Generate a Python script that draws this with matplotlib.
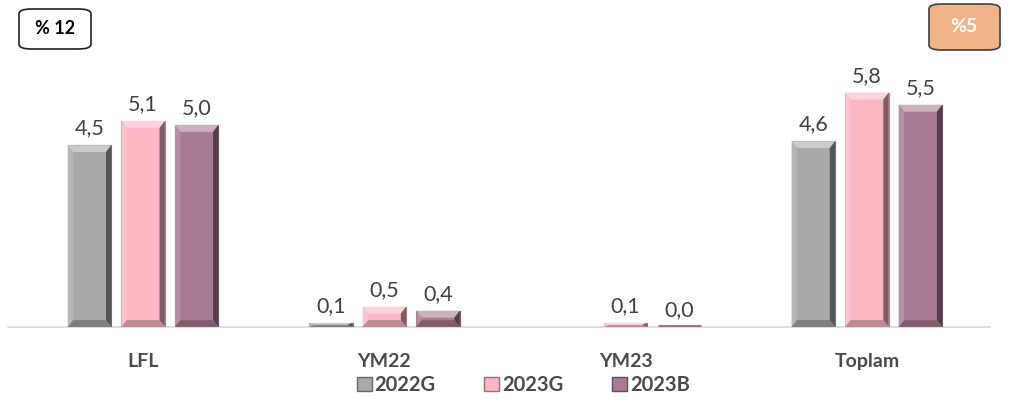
import numpy as np
import matplotlib
matplotlib.use('Agg')
import matplotlib.pyplot as plt
from matplotlib.patches import Polygon, FancyBboxPatch, Patch
import matplotlib.colors as mcolors

plt.rcParams['font.family'] = ['Lato', 'DejaVu Sans']

categories = ['LFL', 'YM22', 'YM23', 'Toplam']
series = ['2022G', '2023G', '2023B']
values_2022g = [4.5, 0.1, np.nan, 4.6]
values_2023g = [5.1, 0.5, 0.1, 5.8]
values_2023b = [5.0, 0.4, 0.0, 5.5]
colors = ['#A9A9A9', '#FBB8C3', '#A97B95']
box_left = '% 12'
box_right = '%5'


def shade(c, f):
    rgb = np.array(mcolors.to_rgb(c))
    if f > 0:
        rgb = rgb + (1 - rgb) * f
    else:
        rgb = rgb * (1 + f)
    return tuple(np.clip(rgb, 0, 1))


def bevel(ax, rect, color):
    # fake the 3D bevel look of the original chart
    x0, y0 = rect.get_x(), rect.get_y()
    w, h = rect.get_width(), rect.get_height()
    x1, y1 = x0 + w, y0 + h
    if h <= 0:
        ax.plot([x0, x1], [0.015, 0.015], color=shade(color, -0.1), lw=2,
                zorder=5, solid_capstyle='butt')
        return
    bx = min(0.022, w / 3)
    by = min(0.17, h / 2.2)
    top = [(x0, y1), (x1, y1), (x1 - bx, y1 - by), (x0 + bx, y1 - by)]
    left = [(x0, y0), (x0, y1), (x0 + bx, y1 - by), (x0 + bx, y0 + by)]
    right = [(x1, y0), (x1, y1), (x1 - bx, y1 - by), (x1 - bx, y0 + by)]
    bottom = [(x0, y0), (x1, y0), (x1 - bx, y0 + by), (x0 + bx, y0 + by)]
    for pts, f in [(top, 0.4), (left, 0.15), (right, -0.5), (bottom, -0.25)]:
        ax.add_patch(Polygon(pts, closed=True, facecolor=shade(color, f),
                             edgecolor='none', zorder=5))


fig = plt.figure(figsize=(10.2, 4.04), dpi=100)
ax = fig.add_axes([8 / 1020, 77 / 404, 982 / 1020, 267 / 404])

x = np.arange(len(categories))
width = 0.18
step = 0.222
all_vals = [values_2022g, values_2023g, values_2023b]
for i, (vals, col) in enumerate(zip(all_vals, colors)):
    pos = x + (i - 1) * step
    bars = ax.bar(pos, vals, width, color=col, zorder=4,
                  edgecolor=shade(col, -0.3), linewidth=0.8)
    for b, v in zip(bars, vals):
        if np.isnan(v):
            continue
        bevel(ax, b, col)
        ax.annotate(f'{v:.1f}'.replace('.', ','),
                    (b.get_x() + b.get_width() / 2, b.get_height()),
                    xytext=(0, 5), textcoords='offset points',
                    ha='center', va='bottom', fontsize=15.5, color='#404040')

ax.set_xlim(-0.56, 3.51)
ax.set_ylim(0, 6.61)
ax.set_xticks(x)
ax.set_xticklabels(categories, fontsize=14, fontweight='bold', color='#4a4a4a')
ax.tick_params(axis='x', length=0, pad=19)
ax.set_yticks([])
for s in ['top', 'right', 'left']:
    ax.spines[s].set_visible(False)
ax.spines['bottom'].set_color('#D9D9D9')
ax.spines['bottom'].set_linewidth(1.2)

handles = [Patch(facecolor=c, edgecolor=shade(c, -0.4), label=s)
           for c, s in zip(colors, series)]
fig.legend(handles=handles, loc='center', ncol=3, frameon=False,
           bbox_to_anchor=(0.513, 0.047), handlelength=0.75, handleheight=0.75,
           handletextpad=0.15, columnspacing=2.4,
           prop={'size': 14.5, 'weight': 'bold'}, labelcolor='#4a4a4a')

# boxes in the corners
fig.add_artist(FancyBboxPatch((19 / 1020, 1 - 49 / 404), 72 / 1020, 40 / 404,
                              boxstyle='round,pad=0,rounding_size=0.012',
                              transform=fig.transFigure, facecolor='white',
                              edgecolor='#202020', linewidth=1.2))
fig.text(55 / 1020, 1 - 29 / 404, box_left, ha='center', va='center',
         fontsize=13, fontweight='bold', color='black')
fig.add_artist(FancyBboxPatch((929 / 1020, 1 - 50 / 404), 71 / 1020, 46 / 404,
                              boxstyle='round,pad=0,rounding_size=0.012',
                              transform=fig.transFigure, facecolor='#F0B287',
                              edgecolor='#404040', linewidth=1.2))
fig.text(964 / 1020, 1 - 27 / 404, box_right, ha='center', va='center',
         fontsize=14, fontweight='bold', color='white')

fig.savefig('out.png', dpi=100)
